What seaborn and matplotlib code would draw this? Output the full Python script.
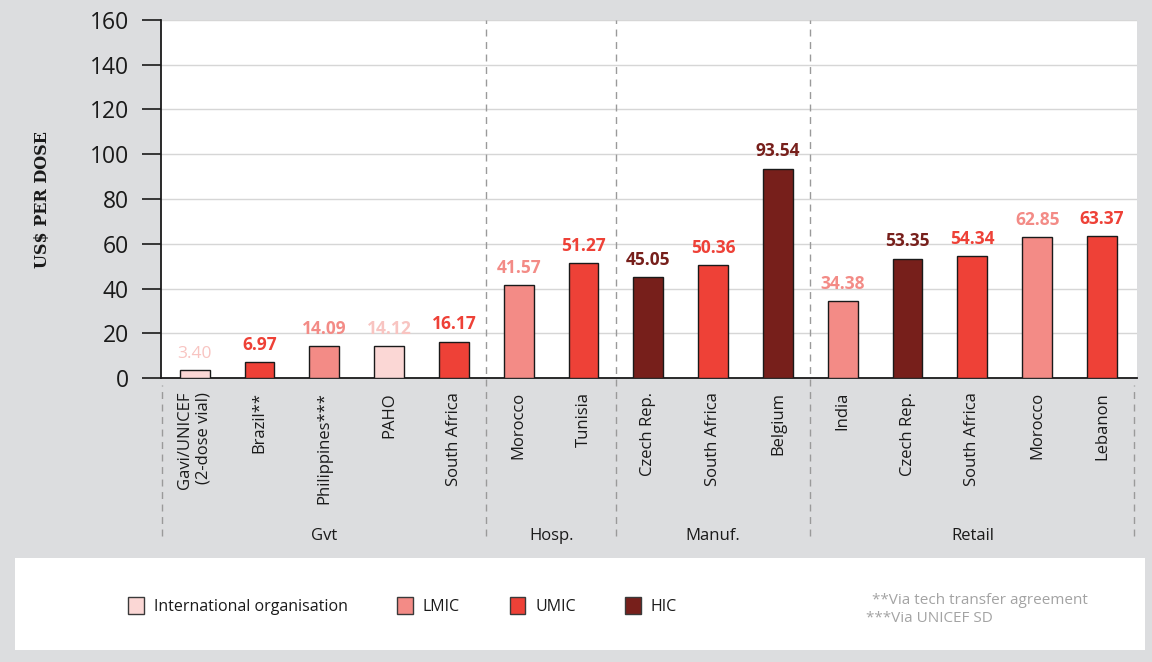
import matplotlib
matplotlib.use("Agg")
import matplotlib.pyplot as plt
import matplotlib.patches as mpatches
import seaborn as sns
import pandas as pd

# ---- data ----
labels = ["Gavi/UNICEF\n(2-dose vial)", "Brazil**", "Philippines***", "PAHO", "South Africa",
          "Morocco", "Tunisia",
          "Czech Rep.", "South Africa", "Belgium",
          "India", "Czech Rep.", "South Africa", "Morocco", "Lebanon"]
values = [3.40, 6.97, 14.09, 14.12, 16.17,
          41.57, 51.27,
          45.05, 50.36, 93.54,
          34.38, 53.35, 54.34, 62.85, 63.37]
income = ["International organisation", "UMIC", "LMIC", "International organisation", "UMIC",
          "LMIC", "UMIC",
          "HIC", "UMIC", "HIC",
          "LMIC", "HIC", "UMIC", "LMIC", "UMIC"]
groups = ["Gvt", "Hosp.", "Manuf.", "Retail"]
group_sizes = [5, 2, 3, 5]
income_levels = ["International organisation", "LMIC", "UMIC", "HIC"]
yticks = [0, 20, 40, 60, 80, 100, 120, 140, 160]
footnotes = ["**Via tech transfer agreement", "***Via UNICEF SD"]

# ---- style ----
bar_colors = {"International organisation": "#fbd7d5", "LMIC": "#f38b86",
              "UMIC": "#ee4137", "HIC": "#771f1b"}
text_colors = {"International organisation": "#f8c4c1", "LMIC": "#f38b86",
               "UMIC": "#ee4137", "HIC": "#771f1b"}
BG = "#dcdddf"

sns.set_theme(style="white")
plt.rcParams["font.family"] = ["Open Sans", "DejaVu Sans"]

fig = plt.figure(figsize=(11.52, 6.62), dpi=100, facecolor=BG)
ax = fig.add_axes([161 / 1152, 1 - 378 / 662, (1137 - 161) / 1152, (378 - 20) / 662])
ax.set_facecolor("white")

df = pd.DataFrame({"pos": list(range(len(values))), "value": values, "income": income})
sns.barplot(data=df, x="pos", y="value", hue="income", palette=bar_colors,
            dodge=False, width=0.46, edgecolor="#1a1a1a", linewidth=1.0,
            saturation=1, legend=False, ax=ax, zorder=3)

ax.set_ylim(0, 160)
ax.set_xlim(-0.52, len(values) - 0.46)
ax.set_yticks(yticks)
ax.set_yticklabels([str(t) for t in yticks], fontsize=16.5, color="#1a1a1a")
ax.grid(axis="y", color="#d6d6d6", linewidth=1.0, zorder=0)
ax.set_axisbelow(True)
ax.tick_params(axis="y", length=14, width=1.2, color="#1a1a1a", pad=9, left=True)
for s in ["top", "right"]:
    ax.spines[s].set_visible(False)
for s in ["left", "bottom"]:
    ax.spines[s].set_color("#1a1a1a")
    ax.spines[s].set_linewidth(1.3)

ax.set_xticks(range(len(values)))
ax.set_xticklabels(labels, rotation=90, fontsize=12, color="#1a1a1a",
                   va="top", ha="center", multialignment="right")
ax.tick_params(axis="x", length=0, pad=10)
ax.set_xlabel("")
ax.set_ylabel("US$ PER DOSE", fontsize=11.5, fontweight="bold", family="DejaVu Serif",
              color="#1a1a1a", labelpad=28)

# value labels
for i, (v, inc) in enumerate(zip(values, income)):
    weight = "normal" if (inc == "International organisation" and v < 5) else "bold"
    ax.annotate(f"{v:.2f}", (i, v), xytext=(0, 6), textcoords="offset points",
                ha="center", va="bottom", fontsize=12.5, fontweight=weight,
                color=text_colors[inc], zorder=4)

# group separators and labels
bounds = [-0.5]
acc = -0.5
for n in group_sizes:
    acc += n
    bounds.append(acc)
trans = ax.get_xaxis_transform()
for k, b in enumerate(bounds):
    top = 1.0 if 0 < k < len(bounds) - 1 else -0.02
    ax.plot([b, b], [-0.44, top], transform=trans, color="#9a9a9a", lw=1.0,
            ls=(0, (5, 4)), clip_on=False, zorder=1)
for g, lo, hi in zip(groups, bounds[:-1], bounds[1:]):
    ax.text((lo + hi) / 2, -0.44, g, transform=trans, ha="center", va="center",
            fontsize=12, color="#1a1a1a")

# legend panel
fig.patches.append(mpatches.Rectangle((15 / 1152, 1 - 650 / 662), (1145 - 15) / 1152,
                                      (650 - 558) / 662, transform=fig.transFigure,
                                      facecolor="white", edgecolor="none", zorder=0))
handles = [mpatches.Patch(facecolor=bar_colors[l], edgecolor="#3a3a3a", linewidth=1.0, label=l)
           for l in income_levels]
fig.legend(handles=handles, loc="center left", bbox_to_anchor=(114 / 1152, 1 - 606 / 662),
           ncol=4, frameon=False, fontsize=11.5, handlelength=1.0, handleheight=1.3,
           handletextpad=0.6, columnspacing=3.1, labelcolor="#1a1a1a")
fig.text(872 / 1152, 1 - 600 / 662, footnotes[0], ha="left", va="center", fontsize=11, color="#a3a3a3")
fig.text(866 / 1152, 1 - 619 / 662, footnotes[1], ha="left", va="center", fontsize=11, color="#a3a3a3")

fig.savefig("out.png", dpi=100, facecolor=BG)
